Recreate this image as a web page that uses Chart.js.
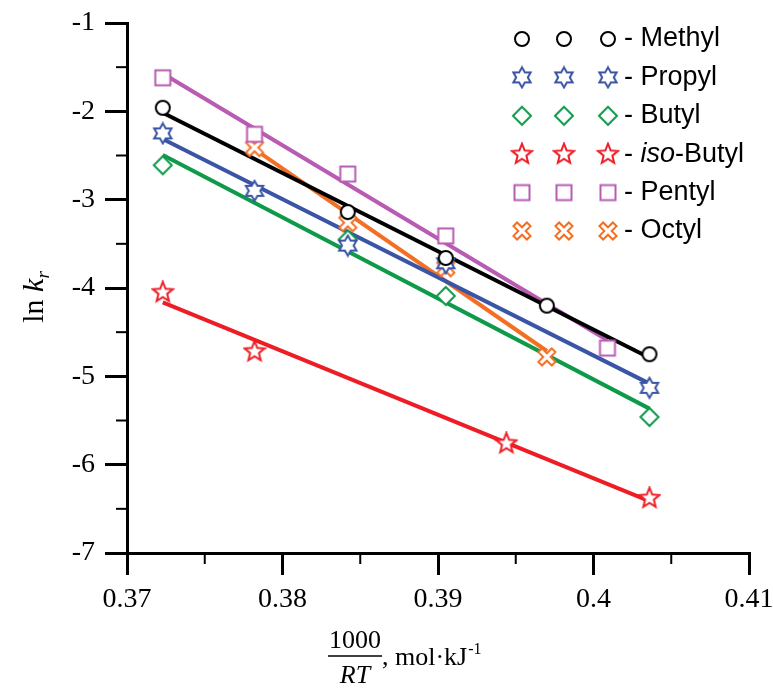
<!DOCTYPE html>
<html>
<head>
<meta charset="utf-8">
<script src="https://cdn.jsdelivr.net/npm/chart.js@4/dist/chart.umd.min.js"></script>
<style>
  html, body { margin: 0; padding: 0; background: #fff; }
  #wrap { width: 773px; height: 688px; }
</style>
</head>
<body>
<div id="wrap"><canvas id="chart"></canvas></div>
<script>
// axis ticks
const xTicks = [0.37, 0.38, 0.39, 0.40, 0.41];
const yTicks = [-7, -6, -5, -4, -3, -2, -1];

// series (x = 1000/RT, y = ln k_r)
const seriesNames = ['Methyl', 'Propyl', 'Butyl', 'iso-Butyl', 'Pentyl', 'Octyl'];
const methylX = [0.3723, 0.3842, 0.3905, 0.3970, 0.4036];
const methylY = [-1.96, -3.14, -3.66, -4.20, -4.75];
const propylX = [0.3723, 0.3782, 0.3842, 0.3905, 0.4036];
const propylY = [-2.25, -2.90, -3.52, -3.72, -5.13];
const butylX = [0.3723, 0.3842, 0.3905, 0.4036];
const butylY = [-2.61, -3.45, -4.09, -5.46];
const isoButylX = [0.3723, 0.3782, 0.3944, 0.4036];
const isoButylY = [-4.05, -4.72, -5.76, -6.38];
const pentylX = [0.3723, 0.3782, 0.3842, 0.3905, 0.4009];
const pentylY = [-1.62, -2.26, -2.71, -3.41, -4.68];
const octylX = [0.3782, 0.3842, 0.3905, 0.3970];
const octylY = [-2.41, -3.26, -3.77, -4.78];

const seriesX = [methylX, propylX, butylX, isoButylX, pentylX, octylX];
const seriesY = [methylY, propylY, butylY, isoButylY, pentylY, octylY];
const colors = ['#000000', '#3a54a6', '#0f9a4a', '#ee1d25', '#b75cb2', '#f36f24'];
const shapes = ['circle', 'star6', 'diamond', 'star5', 'square', 'cross'];

const serif = '"Liberation Serif", "Times New Roman", serif';

// hollow marker drawn on a little canvas, used as pointStyle
function makeMarker(kind, color) {
  const s = 24;
  const c = document.createElement('canvas');
  c.width = s; c.height = s;
  const g = c.getContext('2d');
  g.translate(s / 2, s / 2);
  g.strokeStyle = color;
  g.fillStyle = '#fff';
  g.lineWidth = 2;
  g.beginPath();
  const poly = (n, ro, ri, rot) => {
    for (let i = 0; i < n * 2; i++) {
      const r = i % 2 ? ri : ro;
      const a = rot + i * Math.PI / n;
      const px = r * Math.sin(a), py = -r * Math.cos(a);
      if (i === 0) g.moveTo(px, py); else g.lineTo(px, py);
    }
    g.closePath();
  };
  if (kind === 'circle') g.arc(0, 0, 7, 0, Math.PI * 2);
  else if (kind === 'square') g.rect(-7.5, -7.5, 15, 15);
  else if (kind === 'diamond') { g.moveTo(0, -9); g.lineTo(9, 0); g.lineTo(0, 9); g.lineTo(-9, 0); g.closePath(); }
  else if (kind === 'star6') poly(6, 10, 5.8, 0);
  else if (kind === 'star5') poly(5, 10.5, 4.6, 0);
  else if (kind === 'cross') {
    const w = 2.6, L = 9.5;
    const pts = [[-w, -L], [w, -L], [w, -w], [L, -w], [L, w], [w, w], [w, L], [-w, L], [-w, w], [-L, w], [-L, -w], [-w, -w]];
    const ca = Math.cos(Math.PI / 4), sa = Math.sin(Math.PI / 4);
    pts.forEach((p, i) => {
      const px = p[0] * ca - p[1] * sa, py = p[0] * sa + p[1] * ca;
      if (i === 0) g.moveTo(px, py); else g.lineTo(px, py);
    });
    g.closePath();
  }
  g.fill();
  g.stroke();
  return c;
}

const markers = shapes.map((k, i) => makeMarker(k, colors[i]));

// least squares line through each series, drawn across its x range
function fitLine(xs, ys) {
  const n = xs.length;
  const mx = xs.reduce((a, b) => a + b, 0) / n;
  const my = ys.reduce((a, b) => a + b, 0) / n;
  let sxy = 0, sxx = 0;
  for (let i = 0; i < n; i++) { sxy += (xs[i] - mx) * (ys[i] - my); sxx += (xs[i] - mx) ** 2; }
  const b = sxy / sxx, a = my - b * mx;
  const x0 = Math.min(...xs), x1 = Math.max(...xs);
  return [{ x: x0, y: a + b * x0 }, { x: x1, y: a + b * x1 }];
}

const datasets = [];
seriesNames.forEach((name, i) => {
  datasets.push({
    label: name,
    data: seriesX[i].map((x, j) => ({ x: x, y: seriesY[i][j] })),
    pointStyle: markers[i],
    pointRadius: 9,
    showLine: false,
    order: 0
  });
  datasets.push({
    label: name + ' fit',
    type: 'line',
    data: fitLine(seriesX[i], seriesY[i]),
    borderColor: colors[i],
    borderWidth: 4,
    pointRadius: 0,
    showLine: true,
    fill: false,
    order: 1
  });
});

// minor ticks, legend, axis titles
const extras = {
  id: 'extras',
  afterDraw(chart) {
    const ctx = chart.ctx;
    const xs = chart.scales.x, ys = chart.scales.y;
    const area = chart.chartArea;
    ctx.save();
    ctx.strokeStyle = '#000';
    ctx.lineWidth = 2;
    for (let i = 0; i < xTicks.length - 1; i++) {
      const px = xs.getPixelForValue((xTicks[i] + xTicks[i + 1]) / 2);
      ctx.beginPath(); ctx.moveTo(px, area.bottom); ctx.lineTo(px, area.bottom + 11); ctx.stroke();
    }
    for (let i = 0; i < yTicks.length - 1; i++) {
      const py = ys.getPixelForValue((yTicks[i] + yTicks[i + 1]) / 2);
      ctx.beginPath(); ctx.moveTo(area.left, py); ctx.lineTo(area.left - 11, py); ctx.stroke();
    }

    // legend: three markers then "- name"
    ctx.fillStyle = '#000';
    ctx.textBaseline = 'middle';
    ctx.textAlign = 'left';
    seriesNames.forEach((name, i) => {
      const y = 39 + i * 38.4;
      [522, 564, 608].forEach(x => ctx.drawImage(markers[i], x - 12, y - 12));
      let x = 624;
      ctx.font = '27px "Liberation Sans"';
      ctx.fillText('- ', x, y); x += ctx.measureText('- ').width;
      if (name.startsWith('iso-')) {
        ctx.font = 'italic 27px "Liberation Sans"';
        ctx.fillText('iso', x, y); x += ctx.measureText('iso').width;
        ctx.font = '27px "Liberation Sans"';
        ctx.fillText(name.slice(3), x, y);
      } else {
        ctx.fillText(name, x, y);
      }
    });

    // y title: ln k_r
    ctx.save();
    ctx.translate(33, 297);
    ctx.rotate(-Math.PI / 2);
    ctx.textBaseline = 'alphabetic';
    ctx.font = '30px ' + serif;
    const w1 = ctx.measureText('ln ').width;
    ctx.font = 'italic 30px ' + serif;
    const w2 = ctx.measureText('k').width;
    ctx.font = 'italic 19px ' + serif;
    const w3 = ctx.measureText('r').width;
    let tx = -(w1 + w2 + w3) / 2;
    ctx.font = '30px ' + serif;
    ctx.fillText('ln ', tx, 10); tx += w1;
    ctx.font = 'italic 30px ' + serif;
    ctx.fillText('k', tx, 10); tx += w2;
    ctx.font = 'italic 19px ' + serif;
    ctx.fillText('r', tx, 16);
    ctx.restore();

    // x title: 1000/RT, mol·kJ-1
    ctx.textBaseline = 'alphabetic';
    ctx.textAlign = 'center';
    ctx.font = '26px ' + serif;
    ctx.fillText('1000', 355, 648);
    ctx.font = 'italic 26px ' + serif;
    ctx.fillText('RT', 355, 683);
    ctx.lineWidth = 1.5;
    ctx.beginPath(); ctx.moveTo(328, 656); ctx.lineTo(382, 656); ctx.stroke();
    ctx.textAlign = 'left';
    ctx.font = '26px ' + serif;
    const unit = ', mol\u00b7kJ';
    ctx.fillText(unit, 382, 665);
    const uw = ctx.measureText(unit).width;
    ctx.font = '16px ' + serif;
    ctx.fillText('-1', 383 + uw, 654);
    ctx.restore();
  }
};

new Chart(document.getElementById('chart'), {
  type: 'scatter',
  data: { datasets: datasets },
  plugins: [extras],
  options: {
    responsive: true,
    maintainAspectRatio: false,
    animation: false,
    layout: { padding: { top: 23, right: 24, left: 0, bottom: 0 } },
    plugins: { legend: { display: false }, tooltip: { enabled: false } },
    scales: {
      x: {
        type: 'linear',
        min: xTicks[0],
        max: xTicks[xTicks.length - 1],
        afterBuildTicks: s => { s.ticks = xTicks.map(v => ({ value: v })); },
        afterFit: s => { s.height = 135; s.paddingLeft = 0; s.paddingRight = 0; },
        ticks: {
          color: '#000',
          padding: 8,
          maxRotation: 0,
          font: { family: serif, size: 28 },
          callback: v => String(+v.toFixed(2))
        },
        grid: { display: true, drawOnChartArea: false, drawTicks: true, tickLength: 22, lineWidth: 3, tickWidth: 3, color: '#000', tickColor: '#000' },
        border: { display: true, width: 3, color: '#000' }
      },
      y: {
        type: 'linear',
        min: yTicks[0],
        max: yTicks[yTicks.length - 1],
        afterBuildTicks: s => { s.ticks = yTicks.map(v => ({ value: v })); },
        afterFit: s => { s.width = 127; s.paddingTop = 0; s.paddingBottom = 0; },
        ticks: {
          color: '#000',
          padding: 10,
          font: { family: serif, size: 28 },
          callback: v => String(v)
        },
        grid: { display: true, drawOnChartArea: false, drawTicks: true, tickLength: 22, lineWidth: 3, tickWidth: 3, color: '#000', tickColor: '#000' },
        border: { display: true, width: 3, color: '#000' }
      }
    }
  }
});
</script>
</body>
</html>
